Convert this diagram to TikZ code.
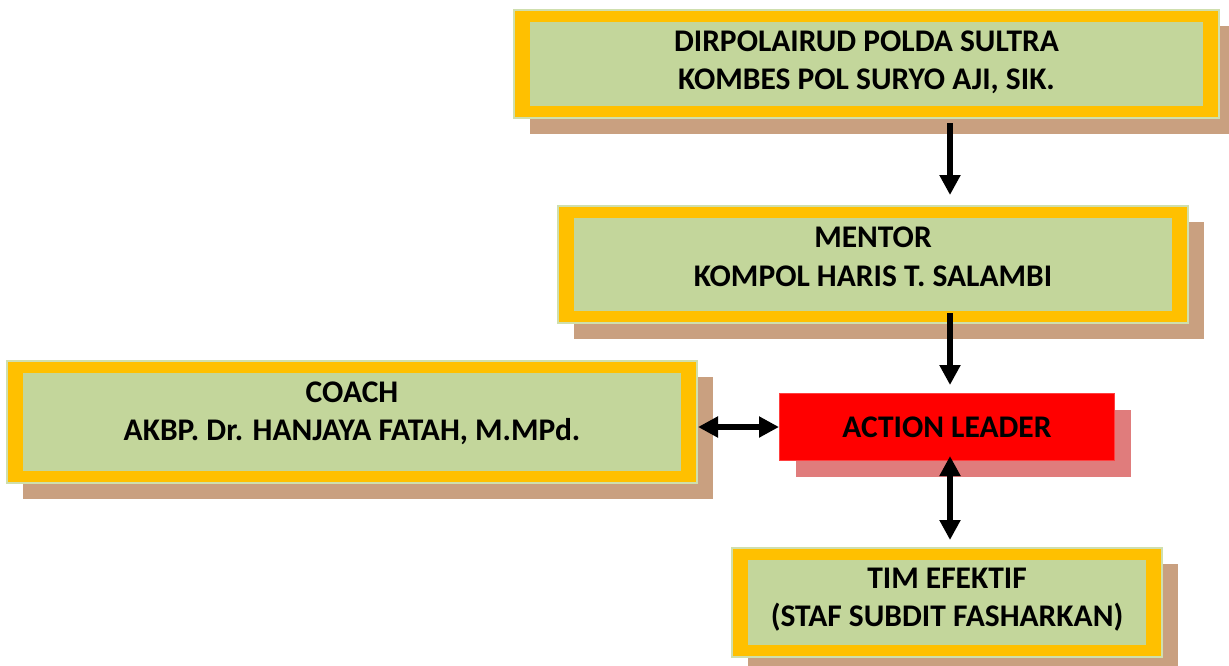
\documentclass[tikz,border=0pt]{standalone}
\usepackage{fontspec}
\setmainfont{Carlito}
\usetikzlibrary{arrows.meta,shadows}
\definecolor{boxgreen}{HTML}{C3D69B}
\definecolor{edgegreen}{HTML}{CFDFAE}
\definecolor{boxorange}{HTML}{FFC000}
\definecolor{shadowtan}{HTML}{C9A080}
\definecolor{shadowred}{HTML}{E07C7C}

\begin{document}
\begin{tikzpicture}[x=1pt, y=-1pt,
    every text node part/.style={align=center},
    label font/.style={font=\bfseries\fontsize{31.5}{38.5}\selectfont},
    frame/.style={draw=edgegreen, line width=2pt, fill=boxorange, inner sep=0pt, label font,
      path picture={\fill[boxgreen] ([shift={(16pt,12pt)}]path picture bounding box.south west)
        rectangle ([shift={(-16pt,-12pt)}]path picture bounding box.north east);},
      drop shadow={shadow xshift=16pt, shadow yshift=-16pt, fill=shadowtan, opacity=1}},
    leader/.style={draw=red!75, line width=1pt, fill=red, inner sep=0pt, label font,
      drop shadow={shadow xshift=16pt, shadow yshift=-16pt, fill=shadowred, opacity=1}},
    flow/.style={line width=6pt, -{Triangle[width=20pt, length=20pt]}},
    twoway/.style={line width=6pt, {Triangle[width=20pt, length=20pt]}-{Triangle[width=20pt, length=20pt]}}]
  \useasboundingbox (0,0) rectangle (1229,665);

  \node[frame, text depth=8pt, minimum width=705pt, minimum height=108pt] (dir) at (866.5, 64)
    {DIRPOLAIRUD POLDA SULTRA\\ KOMBES POL SURYO AJI, SIK.};
  \node[frame, text depth=16pt, minimum width=630pt, minimum height=117pt] (mentor) at (873, 264.5)
    {MENTOR\\KOMPOL HARIS T. SALAMBI};
  \node[frame, text depth=22pt, minimum width=690pt, minimum height=122pt] (coach) at (352, 422)
    {COACH\\AKBP. Dr. HANJAYA FATAH, M.MPd.};
  \node[leader, minimum width=335pt, minimum height=67pt] (al) at (947, 427) {ACTION LEADER};
  \node[frame, text depth=10pt, minimum width=430pt, minimum height=109pt] (tim) at (947, 602.5)
    {TIM EFEKTIF\\(STAF SUBDIT FASHARKAN)};

  \draw[flow] ([xshift=83.5pt, yshift=-4pt]dir.south) -- ([xshift=77pt, yshift=10pt]mentor.north);
  \draw[flow] ([xshift=77pt, yshift=11pt]mentor.south) -- ([xshift=3pt, yshift=8pt]al.north);
  \draw[twoway] ([xshift=3pt, yshift=5pt]al.south) -- ([xshift=3pt, yshift=7pt]tim.north);
  \draw[twoway] (coach.east |- al.west) -- (al.west);
\end{tikzpicture}
\end{document}
